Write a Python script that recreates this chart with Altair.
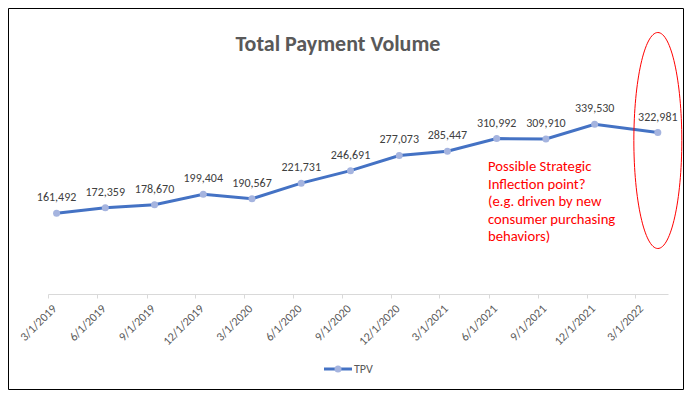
import altair as alt
import pandas as pd

# ---- data ----
dates = ["2019-03-17", "2019-06-16", "2019-09-16", "2019-12-16", "2020-03-16",
         "2020-06-16", "2020-09-16", "2020-12-16", "2021-03-16", "2021-06-16",
         "2021-09-16", "2021-12-16", "2022-04-13"]
tpv = [161492, 172359, 178670, 199404, 190567, 221731, 246691, 277073,
       285447, 310992, 309910, 339530, 322981]
tick_dates = [(2019, 3), (2019, 6), (2019, 9), (2019, 12), (2020, 3), (2020, 6),
              (2020, 9), (2020, 12), (2021, 3), (2021, 6), (2021, 9), (2021, 12),
              (2022, 3)]
series_name = "TPV"
title_text = "Total Payment Volume"
note_lines = ["Possible Strategic", "Inflection point?", "(e.g. driven by new",
              "consumer purchasing", "behaviors)"]

FONT = "Calibri, Carlito, Lato, sans-serif"
BLUE = "#4472C4"
MARKER = "#A5B4DF"
GRAY = "#595959"
RED = "#FF0000"

df = pd.DataFrame({"date": dates, "value": tpv})
last = pd.DataFrame({"date": [dates[-1]], "value": [tpv[-1]]})
one = pd.DataFrame({"k": [0]})

xscale = alt.Scale(type="utc",
                   domain=[alt.DateTime(year=2019, month=3, date=1, utc=True),
                           alt.DateTime(year=2022, month=5, date=2, utc=True)])
yscale = alt.Scale(domain=[0, 400000])

x_enc = alt.X("date:T", scale=xscale, title=None,
              axis=alt.Axis(values=[alt.DateTime(year=y, month=m, date=1, utc=True)
                                    for y, m in tick_dates],
                            labelExpr="utcFormat(datum.value, '%-m/%-d/%Y')",
                            labelAngle=-45, labelAlign="right", labelBaseline="middle",
                            labelOffset=6, labelPadding=8, tickSize=4,
                            domainColor="#D9D9D9", tickColor="#D9D9D9",
                            labelColor=GRAY, labelFont=FONT, labelFontSize=12,
                            grid=False, labelOverlap=False, labelBound=False,
                            labelFlush=False))
y_enc = alt.Y("value:Q", scale=yscale, axis=None)

base = alt.Chart(df).encode(x=x_enc, y=y_enc)

line = base.mark_line(color=BLUE, strokeWidth=3)
pts = base.mark_point(filled=True, color=MARKER, size=49, opacity=1)
labels = base.mark_text(dy=-12, baseline="alphabetic", align="center",
                        font=FONT, fontSize=12, color="#404040").encode(
    text=alt.Text("value:Q", format=",d"))

# ellipse highlighting the last point
ell_path = ("M0,-1 C0.1226,-1 0.222,-0.5523 0.222,0 C0.222,0.5523 0.1226,1 0,1 "
            "C-0.1226,1 -0.222,0.5523 -0.222,0 C-0.222,-0.5523 -0.1226,-1 0,-1 Z")
ellipse = alt.Chart(last).mark_point(shape=ell_path, size=46656, filled=False,
                                     stroke=RED, strokeWidth=1, opacity=1,
                                     yOffset=8).encode(
    x=alt.X("date:T", scale=xscale), y=alt.Y("value:Q", scale=yscale))

note = alt.Chart(one).mark_text(align="left", baseline="alphabetic", font=FONT,
                                fontSize=14.67, color=RED, lineHeight=17.6).encode(
    x=alt.value(440), y=alt.value(77), text=alt.value(note_lines))

title = alt.Chart(one).mark_text(align="center", baseline="alphabetic", font=FONT,
                                 fontSize=22, fontWeight="bold", color=GRAY).encode(
    x=alt.value(290), y=alt.value(-43), text=alt.value(title_text))

# frame around the whole chart
frame = alt.Chart(one).mark_rect(fillOpacity=0, stroke="black", strokeWidth=1).encode(
    x=alt.value(-39.5), x2=alt.value(635.5), y=alt.value(-85.5), y2=alt.value(295.5))

# legend
leg_line = alt.Chart(one).mark_rule(color=BLUE, strokeWidth=3).encode(
    x=alt.value(276), x2=alt.value(304), y=alt.value(275))
leg_pt = alt.Chart(one).mark_point(filled=True, color=MARKER, size=49, opacity=1).encode(
    x=alt.value(290), y=alt.value(275))
leg_txt = alt.Chart(one).mark_text(align="left", baseline="middle", font=FONT,
                                   fontSize=12, color=GRAY).encode(
    x=alt.value(306), y=alt.value(275), text=alt.value(series_name))

chart = alt.layer(frame, title, line, pts, labels, ellipse, note,
                  leg_line, leg_pt, leg_txt).properties(
    width=620, height=200,
    padding={"left": 40, "top": 86, "right": 16, "bottom": 96},
    autosize=alt.AutoSizeParams(type="none"),
    background="white",
).configure_view(strokeWidth=0)

chart.save("out.html", embed_options={"renderer": "svg", "actions": False})
